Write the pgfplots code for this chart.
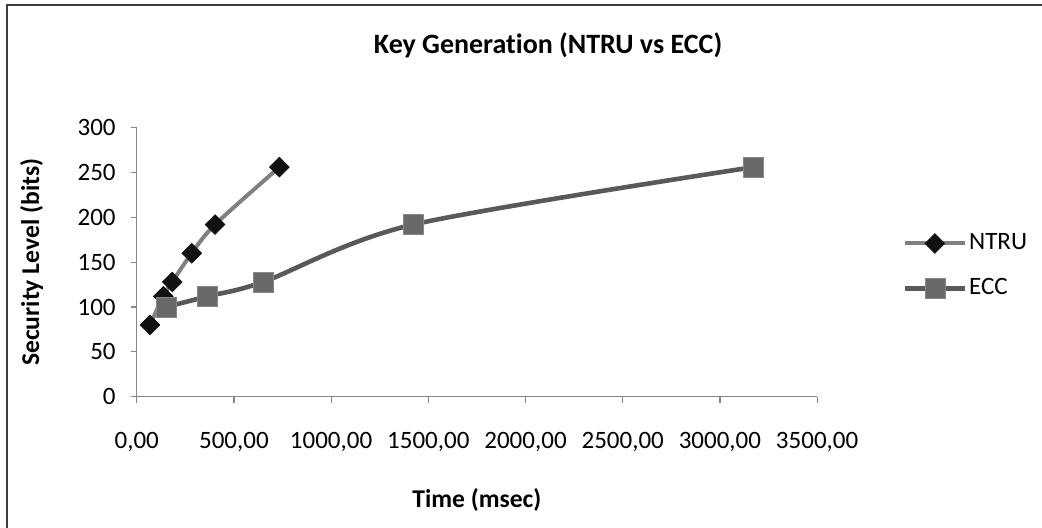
\documentclass[border=0pt]{standalone}
\usepackage{fontspec}
\setmainfont{Carlito}[Ligatures={NoCommon}]
\usepackage{pgfplots}
\pgfplotsset{compat=1.18}

\definecolor{axisgray}{RGB}{134,134,134}
\definecolor{ntruline}{RGB}{128,128,128}
\definecolor{ntrumark}{RGB}{17,17,17}
\definecolor{eccline}{RGB}{89,89,89}
\definecolor{eccmark}{RGB}{105,105,105}
\definecolor{eccedge}{RGB}{135,135,135}
\definecolor{framegray}{RGB}{60,60,60}

\begin{document}
\begin{tikzpicture}
% page area and chart frame
\path[use as bounding box] (0,0) rectangle (521pt,263.5pt);
\draw[framegray, line width=0.8pt] (3.5pt,-2pt) -- (3.5pt,261pt) -- (523pt,261pt);

\begin{axis}[
  at={(68.35pt,65.15pt)}, anchor=south west,
  scale only axis, width=340.2pt, height=134.5pt,
  xmin=0, xmax=3500, ymin=0, ymax=300,
  axis x line*=bottom, axis y line*=left,
  axis line style={axisgray, line width=0.6pt, -},
  xtick={0,500,...,3500}, ytick={0,50,...,300},
  tick style={axisgray, line width=0.6pt},
  tick align=outside, major tick length=3pt,
  font=\fontsize{12.5}{15}\selectfont,
  /pgf/number format/assume math mode=true,
  xticklabel style={/pgf/number format/.cd, fixed, fixed zerofill, precision=2, use comma, 1000 sep={}, /tikz/.cd, yshift=-11pt},
  yticklabel style={xshift=-4pt},
  scaled x ticks=false,
  title={\bfseries Key Generation (NTRU vs ECC)},
  title style={at={(rel axis cs:0.6046,1.263)}, anchor=center, font=\fontsize{14}{17}\selectfont},
  xlabel={\bfseries Time (msec)},
  every axis x label/.style={at={(rel axis cs:0.5,-0.384)}, anchor=center, font=\fontsize{12.8}{15}\selectfont},
  ylabel={\bfseries Security Level (bits)},
  every axis y label/.style={at={(rel axis cs:-0.1545,0.5)}, anchor=center, rotate=90, font=\fontsize{12.8}{15}\selectfont},
  legend style={at={(1.125,0.486)}, anchor=west, draw=none, fill=none, inner sep=0pt,
    row sep=10pt, font=\fontsize{12.5}{15}\selectfont,
    nodes={inner sep=1pt, text height=8.5pt, text depth=2pt}},
  legend cell align=left,
  legend image code/.code={\draw[#1, mark repeat=2, mark phase=2] plot coordinates {(0pt,0pt) (15pt,0pt) (30pt,0pt)};},
]
% NTRU key generation
\addplot[ntruline, line width=2pt, smooth, tension=0.5,
  mark=square*, mark size=3.5pt,
  mark options={rotate=45, fill=ntrumark, draw=ntrumark, line width=0.3pt, solid}]
  coordinates {(68,80) (137,112) (183,128) (283,160) (403,192) (734,256)};
\addlegendentry{NTRU}
% ECC key generation
\addplot[eccline, line width=2.3pt, smooth, tension=0.5,
  mark=square*, mark size=5pt,
  mark options={fill=eccmark, draw=eccedge, line width=0.3pt, solid}]
  coordinates {(151,100) (365,112) (651,128) (1423,192) (3172,256)};
\addlegendentry{ECC}
\end{axis}
\end{tikzpicture}
\end{document}
